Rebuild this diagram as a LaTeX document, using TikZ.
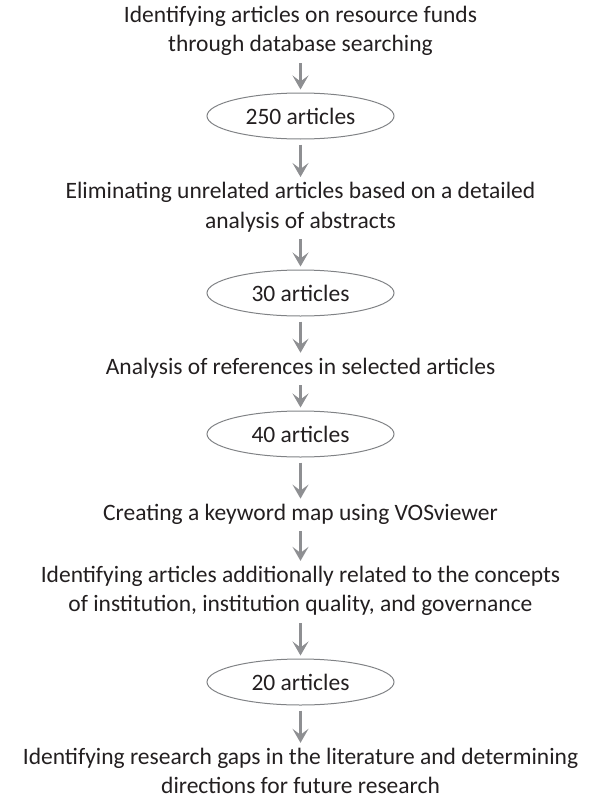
\documentclass[tikz,border=0pt]{standalone}
\usepackage{fontspec}
\setmainfont{Carlito}
\usepackage{tikz}
\usetikzlibrary{arrows.meta,shapes.geometric}
\definecolor{cTxt}{HTML}{231F20}
\definecolor{cArr}{HTML}{8E8F92}
\definecolor{cOval}{HTML}{808285}
\tikzset{
  >={Stealth[length=14pt, width=16pt, inset=6pt]},
  stepbox/.style={font=\fontsize{23.5}{29.5}\selectfont, text=cTxt, align=center, inner sep=2pt},
  count/.style={ellipse, draw=cOval, line width=1pt, font=\fontsize{23.5}{29.5}\selectfont,
                text=cTxt, minimum width=187pt, minimum height=46pt, inner sep=0pt},
  flow/.style={->, line width=3.2pt, cArr, shorten <=5pt, shorten >=3pt},
}

\begin{document}
\begin{tikzpicture}[x=1pt, y=-1pt]
  \useasboundingbox (0,0) rectangle (601,800);
  \node[stepbox] (t1) at (300.5,31)  {Identifying articles on resource funds\\through database searching};
  \node[count]   (e1) at (300.5,116) {250 articles};
  \node[stepbox] (t2) at (300.5,207) {Eliminating unrelated articles based on a detailed\\analysis of abstracts};
  \node[count]   (e2) at (300.5,293) {30 articles};
  \node[stepbox] (t3) at (300.5,368) {Analysis of references in selected articles};
  \node[count]   (e3) at (300.5,434) {40 articles};
  \node[stepbox] (t4) at (300.5,514) {Creating a keyword map using VOSviewer};
  \node[stepbox] (t5) at (300.5,591) {Identifying articles additionally related to the concepts\\of institution, institution quality, and governance};
  \node[count]   (e4) at (300.5,682) {20 articles};
  \node[stepbox] (t6) at (300.5,771) {Identifying research gaps in the literature and determining\\directions for future research};

  \draw[flow] (t1) -- (e1);
  \draw[flow] (e1) -- (t2);
  \draw[flow] (t2) -- (e2);
  \draw[flow] (e2) -- (t3);
  \draw[flow] (t3) -- (e3);
  \draw[flow] (e3) -- (t4);
  \draw[flow] (t4) -- (t5);
  \draw[flow] (t5) -- (e4);
  \draw[flow] (e4) -- (t6);
\end{tikzpicture}
\end{document}
